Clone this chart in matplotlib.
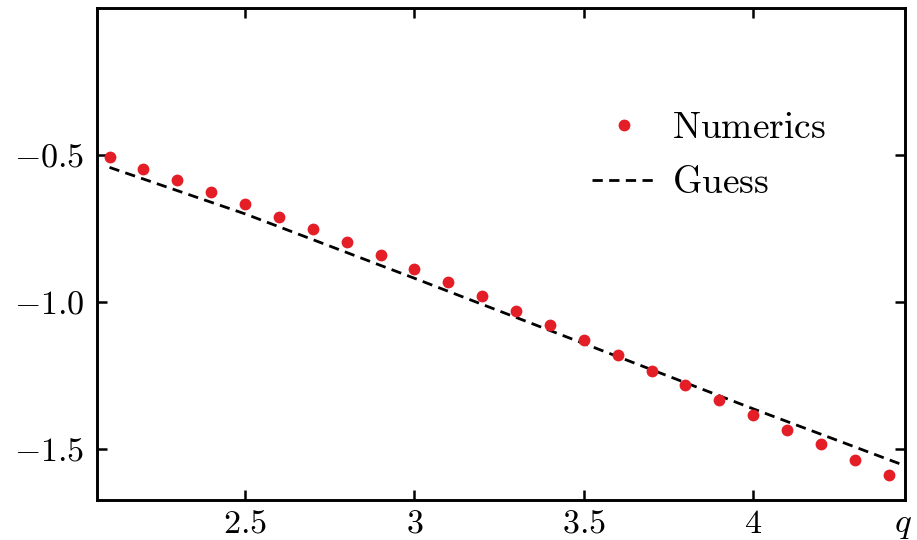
import matplotlib
matplotlib.use("Agg")
import matplotlib.pyplot as plt
import numpy as np

plt.rcParams["mathtext.fontset"] = "cm"
plt.rcParams["font.family"] = "serif"
plt.rcParams["font.serif"] = ["cmr10", "DejaVu Serif"]

# numerical results, q = 2.1 ... 4.4
q_num = [2.1, 2.2, 2.3, 2.4, 2.5, 2.6, 2.7, 2.8, 2.9, 3.0, 3.1, 3.2,
         3.3, 3.4, 3.5, 3.6, 3.7, 3.8, 3.9, 4.0, 4.1, 4.2, 4.3, 4.4]
y_num = [-0.508, -0.547, -0.586, -0.627, -0.668, -0.709, -0.752, -0.796,
         -0.840, -0.887, -0.933, -0.980, -1.030, -1.079, -1.129, -1.179,
         -1.235, -1.282, -1.332, -1.384, -1.435, -1.484, -1.538, -1.588]

# guess curve
q_guess = [2.1, 2.5, 3.0, 3.5, 4.0, 4.47]
y_guess = [-0.542, -0.700, -0.919, -1.141, -1.363, -1.566]

xticks = [2.5, 3.0, 3.5, 4.0]
xtick_labels = [r"$2.5$", r"$3$", r"$3.5$", r"$4$"]
yticks = [-0.5, -1.0, -1.5]
ytick_labels = [r"$-0.5$", r"$-1.0$", r"$-1.5$"]

fig = plt.figure(figsize=(9.17, 5.4), dpi=100)
ax = fig.add_axes([97 / 917, 1 - 500 / 540, 808 / 917, 492 / 540])

ax.plot(q_num, y_num, "o", color="#e41e26", markersize=8.5, markeredgewidth=0,
        label=r"$\mathrm{Numerics}$", zorder=3)
ax.plot(q_guess, y_guess, "--", color="black", linewidth=2.0, dashes=(3.7, 2.3),
        label=r"$\mathrm{Guess}$", zorder=2)

ax.set_xlim(2.063, 4.448)
ax.set_ylim(-1.673, 0.0)

ax.set_xticks(xticks)
ax.set_xticklabels(xtick_labels)
ax.set_yticks(yticks)
ax.set_yticklabels(ytick_labels)
ax.tick_params(direction="in", top=True, right=True, length=7, width=1.8,
               labelsize=24.5)
ax.tick_params(axis="x", pad=7)
ax.tick_params(axis="y", pad=9)
for s in ax.spines.values():
    s.set_linewidth(2.1)

ax.text(0.997, -0.02, r"$q$", transform=ax.transAxes, ha="center", va="top",
        fontsize=25)

ax.legend(loc="center left", bbox_to_anchor=(0.6126, 0.70), frameon=False,
          fontsize=27, handlelength=1.7, handletextpad=0.43, labelspacing=0.58,
          borderpad=0, borderaxespad=0, numpoints=1)

fig.savefig("out.png", dpi=100)
